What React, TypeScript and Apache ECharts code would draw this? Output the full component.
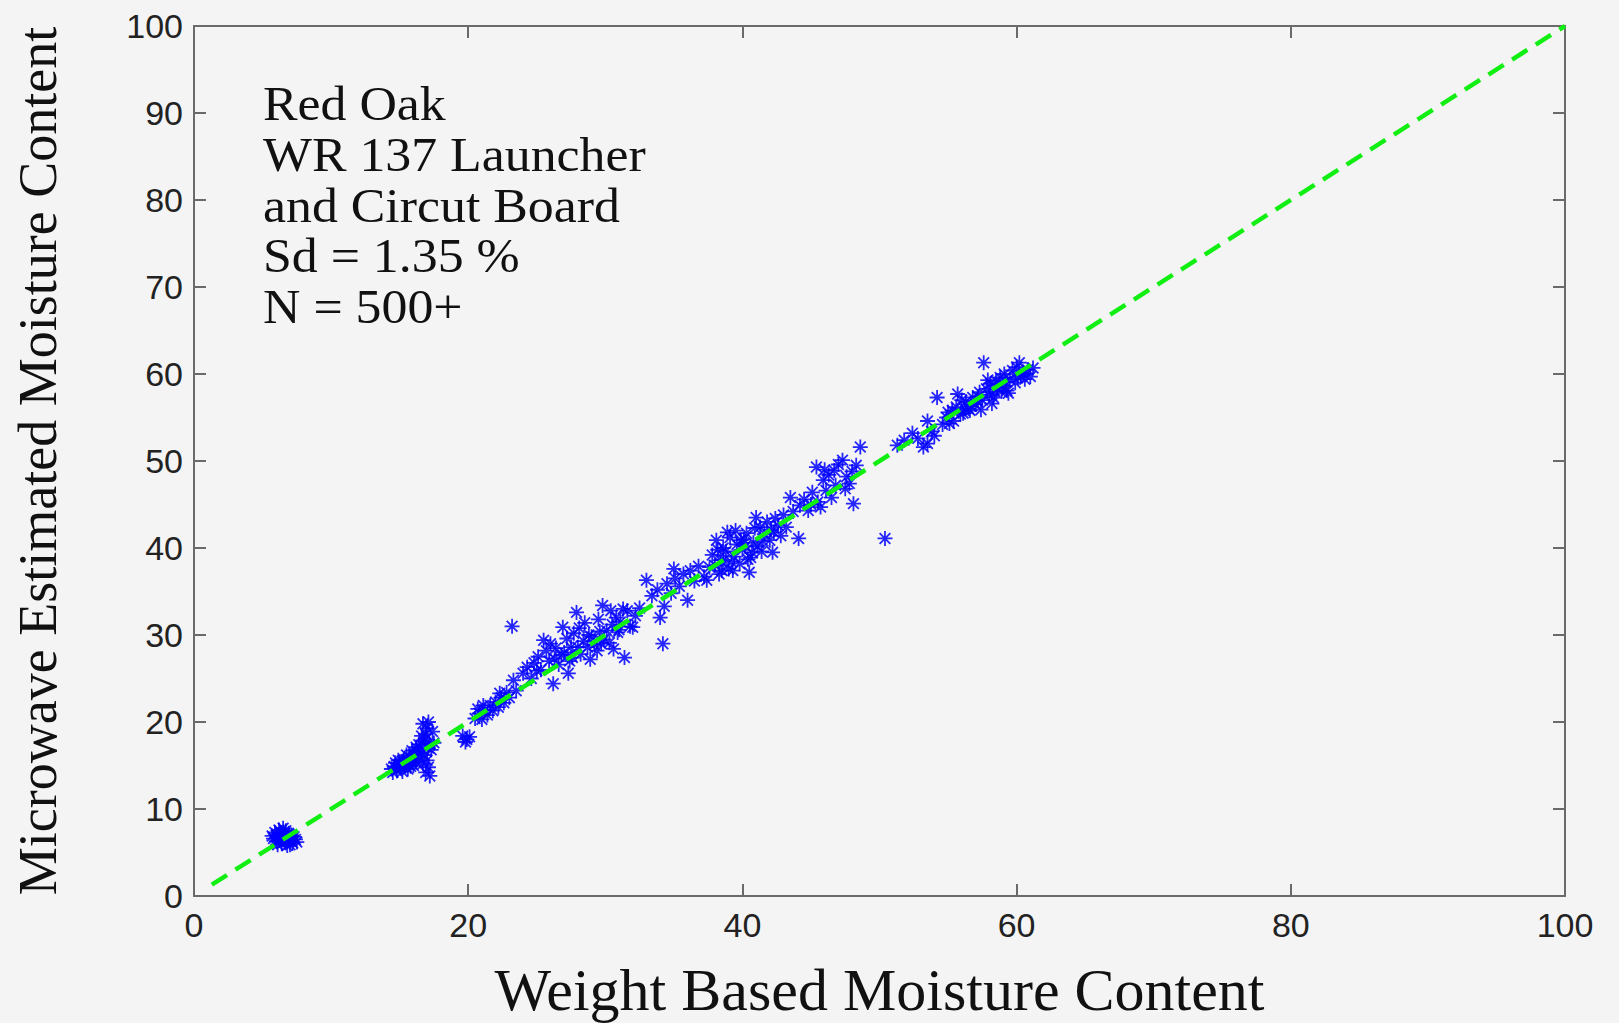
import React, { useEffect, useRef } from "react";
import * as echarts from "echarts";

// ---- data ----
const clusterA: number[][] = [
  [5.8, 6.6], [6.0, 7.0], [6.2, 6.4], [6.3, 7.3], [6.5, 6.8], [6.6, 6.2], [6.7, 7.5], [6.9, 6.6],
  [7.1, 7.0], [7.2, 6.1], [7.4, 6.5], [6.1, 5.9], [6.4, 6.0], [6.8, 5.8], [7.0, 6.3], [5.7, 6.9],
  [6.3, 6.6], [6.6, 7.1], [6.0, 6.3], [6.9, 7.2], [7.3, 6.8], [6.5, 7.8], [6.2, 7.6], [7.5, 6.2],
  [6.7, 6.9], [6.4, 7.0], [7.0, 5.9], [5.9, 7.3], [6.5, 6.5], [6.8, 6.4], [6.1, 6.8],
];
const clusterB: number[][] = [
  [14.4, 14.6], [14.6, 14.9], [14.8, 14.4], [15.0, 15.2], [15.1, 14.7], [15.3, 15.6], [15.4, 15.0],
  [15.6, 15.4], [15.7, 16.0], [15.9, 15.5], [16.0, 16.3], [16.1, 15.8], [16.3, 16.6], [16.4, 16.1],
  [16.5, 17.0], [16.6, 16.4], [14.9, 15.6], [15.2, 14.3], [15.5, 16.2], [15.8, 14.9], [16.2, 17.1],
  [16.0, 15.0], [14.7, 15.3], [15.9, 16.7], [15.2, 15.5], [15.6, 14.6], [16.2, 15.4], [16.4, 17.4],
  [14.5, 14.2],
  [16.8, 17.8], [16.9, 18.6], [17.0, 19.3], [16.7, 19.8], [17.1, 20.0], [16.9, 18.0], [17.2, 17.4],
  [16.8, 16.2], [17.0, 15.6], [17.1, 14.8], [16.9, 14.2], [17.2, 13.8], [16.7, 15.2], [17.3, 16.8],
  [17.5, 17.6], [17.4, 18.9], [16.6, 18.4], [17.1, 17.0],
  [19.6, 18.4], [19.9, 18.0], [20.1, 18.3], [19.8, 17.7],
];
const clusterC: number[][] = [
  [20.5, 20.4], [20.8, 21.0], [21.0, 20.3], [21.2, 21.4], [21.4, 20.8], [21.6, 21.9], [21.8, 21.3],
  [22.0, 22.3], [22.2, 21.7], [22.4, 22.8], [22.6, 22.2], [22.8, 23.4], [23.0, 22.8], [23.3, 24.8],
  [23.5, 23.6], [21.1, 21.9], [22.3, 23.3], [20.7, 21.5], [23.2, 31.0],
];
const clusterD: number[][] = [
  [24.0, 25.6], [24.3, 26.3], [24.6, 25.0], [24.8, 26.8], [25.1, 27.5], [25.3, 26.0], [25.5, 29.4],
  [25.7, 28.2], [25.9, 27.0], [26.2, 24.4], [26.0, 29.0], [26.4, 28.5], [26.6, 26.6], [26.9, 30.9],
  [27.0, 28.0], [27.2, 29.6], [27.4, 27.0], [27.6, 27.4], [27.7, 30.2], [27.9, 32.6], [28.0, 28.6],
  [28.2, 27.8], [28.4, 29.3], [28.5, 31.4], [28.7, 28.6], [28.9, 27.2], [29.0, 29.8], [29.2, 28.9],
  [29.4, 28.2], [29.6, 30.4], [29.8, 33.4], [29.9, 29.5], [30.1, 30.5], [30.3, 29.1], [30.5, 31.2],
  [30.8, 32.0], [30.9, 30.3], [31.1, 31.5], [31.3, 33.0], [31.4, 27.4], [31.6, 32.8], [31.8, 31.0],
  [32.0, 30.9], [32.2, 32.2], [32.5, 33.1], [26.8, 27.7], [28.1, 30.8], [27.3, 25.6], [29.5, 31.8],
  [30.6, 28.4], [26.3, 27.3], [27.5, 28.6], [28.8, 30.0], [29.7, 29.0], [31.0, 30.6], [25.0, 25.9],
  [30.4, 32.8],
];
const clusterE: number[][] = [
  [33.0, 36.3], [33.4, 34.5], [33.8, 35.2], [34.0, 32.0], [34.2, 29.0], [34.5, 35.9], [34.8, 34.8],
  [35.1, 36.5], [35.4, 35.6], [35.7, 37.0], [36.0, 34.0], [36.2, 37.4], [36.5, 36.2], [36.8, 37.9],
  [37.2, 36.7], [37.4, 36.3], [34.3, 33.3], [35.0, 37.6],
];
const clusterF: number[][] = [
  [37.6, 37.8], [37.8, 39.2], [38.0, 38.0], [38.1, 40.9], [38.3, 37.0], [38.4, 38.6], [38.6, 40.0],
  [38.6, 38.6], [38.8, 39.6], [39.0, 37.6], [39.1, 41.2], [39.3, 37.4], [39.4, 39.0], [39.6, 40.4],
  [39.8, 38.2], [40.0, 39.8], [40.1, 41.0], [40.3, 41.7], [40.4, 38.7], [40.6, 38.9], [40.8, 40.6],
  [40.9, 42.3], [41.1, 40.2], [41.3, 42.4], [41.4, 39.6], [41.6, 41.6], [41.8, 43.0], [42.0, 40.9],
  [42.1, 42.1], [42.2, 39.5], [42.4, 43.4], [42.6, 42.6], [42.8, 41.4], [43.0, 43.8], [43.2, 42.4],
  [43.5, 45.8], [43.7, 44.2], [44.1, 41.1], [39.5, 42.0], [40.5, 37.2], [38.9, 41.8], [41.0, 43.5],
  [38.2, 39.8], [39.2, 38.4], [39.9, 40.9], [40.7, 39.5], [41.5, 40.8], [42.3, 41.8], [38.5, 37.4],
  [40.2, 40.2],
];
const clusterG: number[][] = [
  [44.2, 44.9], [44.5, 45.6], [44.8, 44.3], [45.1, 46.4], [45.4, 49.3], [45.5, 45.3], [45.7, 44.7],
  [45.9, 47.8], [46.1, 46.6], [46.3, 48.4], [46.5, 45.8], [46.8, 47.2], [47.0, 49.6], [47.3, 50.1],
  [47.5, 46.8], [47.8, 47.4], [48.0, 48.8], [48.1, 45.1], [48.3, 49.5], [48.6, 51.6], [46.0, 49.0],
  [45.0, 45.0], [46.7, 48.9], [47.6, 48.2], [50.4, 41.1],
];
const clusterH: number[][] = [
  [51.3, 51.8], [51.8, 52.4], [52.4, 53.2], [52.8, 52.6], [53.2, 51.6], [53.5, 52.0], [53.5, 54.6],
  [53.8, 53.4], [54.0, 52.9], [54.2, 57.3],
];
const clusterI: number[][] = [
  [54.6, 54.2], [54.9, 55.0], [55.1, 54.3], [55.3, 55.8], [55.4, 54.6], [55.6, 56.2], [55.7, 57.7],
  [55.9, 55.4], [56.1, 55.5], [56.3, 56.8], [56.5, 56.0], [56.6, 55.8], [56.8, 57.3], [57.0, 56.5],
  [57.1, 56.9], [57.3, 57.9], [57.5, 57.0], [57.6, 61.3], [57.8, 58.3], [58.0, 57.6], [58.1, 58.9],
  [58.3, 57.3], [58.5, 59.2], [58.6, 58.4], [58.8, 59.6], [59.0, 58.7], [59.1, 60.0], [59.3, 58.1],
  [59.5, 59.4], [59.7, 60.4], [59.9, 59.0], [60.2, 61.3], [60.3, 59.8], [60.5, 60.0], [60.8, 60.5],
  [61.0, 59.7], [61.2, 60.7], [57.4, 55.9], [58.2, 56.6], [56.0, 57.0], [59.4, 57.8], [60.0, 60.8],
  [55.0, 55.6], [56.2, 56.0], [57.2, 57.4], [58.4, 58.0], [59.2, 59.1], [60.6, 59.4], [57.9, 59.3],
  [56.7, 56.3], [58.9, 58.0], [60.1, 59.6],
];
const refLine: number[][] = [[1.3, 1.3], [100, 100]];
const annotationLines = ["Red Oak", "WR 137 Launcher", "and Circut Board", "Sd = 1.35 %", "N = 500+"];
const xAxisTitle = "Weight Based Moisture Content";
const yAxisTitle = "Microwave Estimated Moisture Content";

const points = [
  ...clusterA, ...clusterB, ...clusterC, ...clusterD, ...clusterE,
  ...clusterF, ...clusterG, ...clusterH, ...clusterI,
];

const STAR = "path://M7,0L7,14M0,7L14,7M2,2L12,12M2,12L12,2";
const BG = "#f4f4f4";
const AXIS = "#6a6a6a";

export default function App() {
  const ref = useRef<HTMLDivElement>(null);
  useEffect(() => {
    if (!ref.current) return;
    const chart = echarts.init(ref.current, undefined, { renderer: "svg" });
    const tickLabel = {
      fontFamily: "Liberation Sans",
      fontSize: 34,
      color: "#222",
    };
    const axisLine = { show: true, onZero: false, lineStyle: { color: AXIS, width: 2 } };
    const axisTick = { show: true, inside: true, length: 12, lineStyle: { color: AXIS, width: 2 } };
    chart.setOption({
      animation: false,
      backgroundColor: BG,
      grid: {
        left: 194, right: 54, top: 26, bottom: 127,
        containLabel: false, outerBoundsMode: "none",
      },
      xAxis: [
        {
          type: "value", min: 0, max: 100, interval: 20, position: "bottom",
          axisLine, axisTick, splitLine: { show: false },
          axisLabel: { ...tickLabel, margin: 12 },
          name: xAxisTitle, nameLocation: "middle", nameGap: 66,
          nameTextStyle: { fontFamily: "Liberation Serif", fontSize: 60, lineHeight: 56, color: "#111" },
        },
        {
          type: "value", min: 0, max: 100, interval: 20, position: "top",
          axisLine, axisTick, splitLine: { show: false }, axisLabel: { show: false },
        },
      ],
      yAxis: [
        {
          type: "value", min: 0, max: 100, interval: 10, position: "left",
          axisLine, axisTick, splitLine: { show: false },
          axisLabel: { ...tickLabel, margin: 11 },
          name: yAxisTitle, nameLocation: "middle", nameGap: 129, nameRotate: 90,
          nameTextStyle: { fontFamily: "Liberation Serif", fontSize: 54, color: "#111" },
        },
        {
          type: "value", min: 0, max: 100, interval: 10, position: "right",
          axisLine, axisTick, splitLine: { show: false }, axisLabel: { show: false },
        },
      ],
      series: [
        {
          type: "scatter",
          data: points,
          symbol: STAR,
          symbolSize: 15,
          z: 2,
          itemStyle: { color: "#0000ff", borderColor: "#0000ff", borderWidth: 1.8, opacity: 0.85 },
        },
        {
          type: "line",
          data: refLine,
          symbol: "none",
          z: 3,
          lineStyle: { color: "#11ee11", width: 4.5, type: [18, 10] },
        },
      ],
      graphic: annotationLines.map((line, i) => ({
        type: "text",
        x: 263,
        y: 80 + i * 50.6,
        scaleX: 1.08,
        style: {
          text: line,
          fontFamily: "Liberation Serif",
          fontSize: 48,
          fill: "#111",
          verticalAlign: "top",
        },
      })),
    });
    return () => chart.dispose();
  }, []);
  return (
    <div
      ref={ref}
      style={{ position: "fixed", left: 0, top: 0, width: 1619, height: 1023, background: BG }}
    />
  );
}
